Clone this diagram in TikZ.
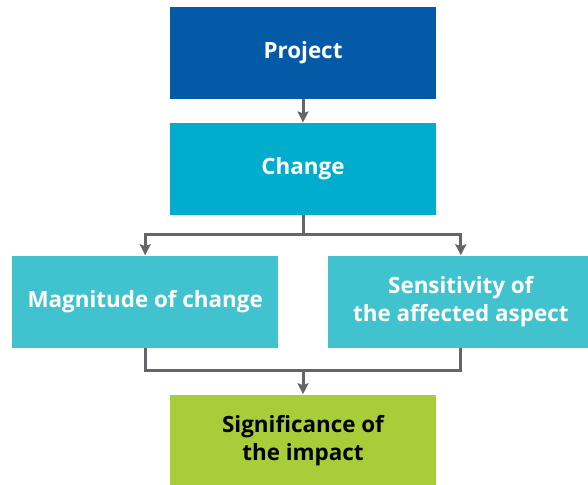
\documentclass[tikz,border=0pt]{standalone}
\usepackage{fontspec}
\setmainfont{Open Sans}
\usepackage{tikz}
\usetikzlibrary{arrows.meta,positioning}

\definecolor{projblue}{HTML}{035BA8}
\definecolor{changeteal}{HTML}{00ADCD}
\definecolor{factorteal}{HTML}{41C2CF}
\definecolor{resultgreen}{HTML}{A7CD39}
\definecolor{linegray}{HTML}{64656B}

\begin{document}
\begin{tikzpicture}[node distance=11.5pt,
        box/.style={rectangle, minimum width=133pt, minimum height=46pt, inner sep=0pt, align=center,
            font=\fontsize{11.2}{14}\selectfont\bfseries, text=white},
        projbox/.style={box, fill=projblue},
        changebox/.style={box, fill=changeteal},
        factorbox/.style={box, fill=factorteal},
        resultbox/.style={box, fill=resultgreen, text=black},
        line/.style={draw=linegray, line width=1.5pt},
        arrow/.style={line, -{Stealth[length=5.5pt, width=5.5pt, inset=1pt]}}]

        \useasboundingbox (0,0) rectangle (294pt,-242pt);

        % Top of the chain
        \node[projbox] (project) at (151.5pt,-26.5pt) {Project};
        \node[changebox, below=of project] (change) {Change};

        % The two factors
        \node[factorbox, below left=20pt and -54.5pt of change] (magnitude) {Magnitude of change};
        \node[factorbox, below right=20pt and -54.5pt of change] (sensitivity) {Sensitivity of\\the affected aspect};

        % Result
        \node[resultbox, below=89.5pt of change] (significance) {Significance of\\the impact};

        % Arrows
        \draw[arrow] (project) -- (change);
        \draw[line] (change.south) -- ++(0,-9.5pt) coordinate (split);
        \draw[arrow] (split) -| (magnitude.north);
        \draw[arrow] (split) -| (sensitivity.north);
        \draw[line] (magnitude.south) -- ++(0,-11pt) coordinate (merge) -| (sensitivity.south);
        \draw[arrow] (merge -| significance.north) -- (significance.north);
    \end{tikzpicture}
\end{document}
